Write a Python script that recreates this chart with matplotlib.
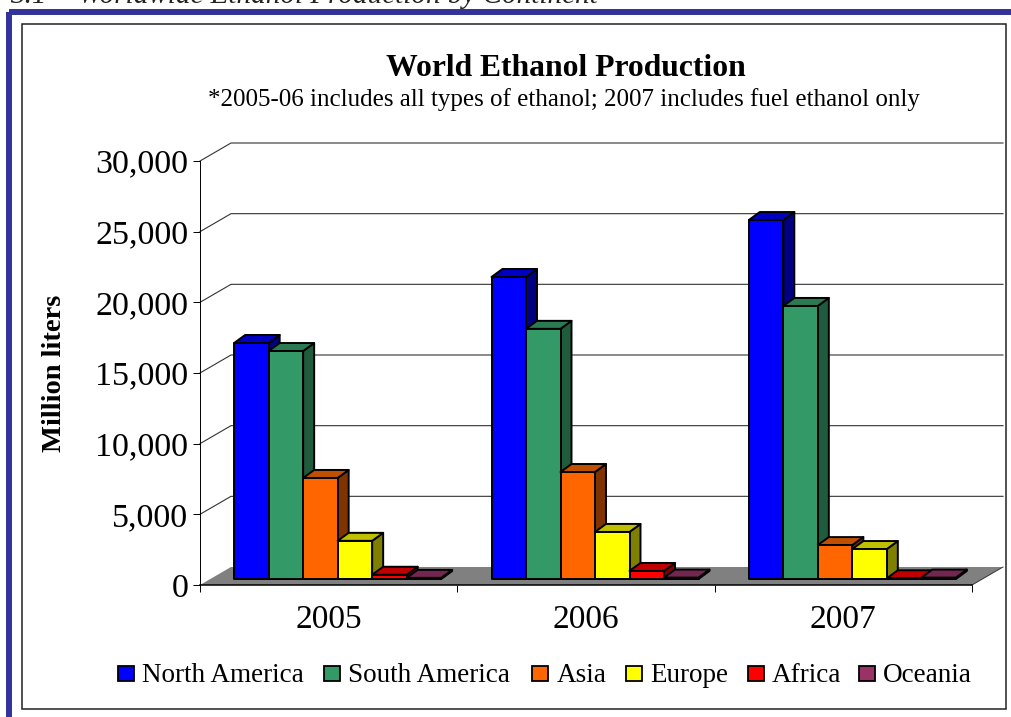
"""
World ethanol production by continent, drawn as an Excel-style 3D column chart.
The depth is faked with polygons on a normal axes.
"""
import matplotlib
matplotlib.use("Agg")
import matplotlib.pyplot as plt
from matplotlib.patches import Polygon, Rectangle

W, H = 1011, 717
plt.rcParams["font.family"] = ["Liberation Serif", "DejaVu Serif"]

# ---- data ----
years = ["2005", "2006", "2007"]
north_america = [16700, 21370, 25400]
south_america = [16130, 17700, 19320]
asia = [7150, 7570, 2400]
europe = [2700, 3330, 2120]
africa = [300, 570, 50]
oceania = [80, 100, 100]
continents = ["North America", "South America", "Asia", "Europe", "Africa", "Oceania"]
y_ticks = [0, 5000, 10000, 15000, 20000, 25000, 30000]

# front, top, side
COLORS = [
    ("#0000FF", "#0000C0", "#000080"),
    ("#339966", "#2A7A52", "#1F5C3D"),
    ("#FF6600", "#C05000", "#803300"),
    ("#FFFF00", "#C0C000", "#808000"),
    ("#FF0000", "#C00000", "#800000"),
    ("#993366", "#732650", "#4D1933"),
]
FRAME = "#333399"

fig = plt.figure(figsize=(W / 100, H / 100), dpi=100, facecolor="white")

# page furniture in pixel coordinates
bg = fig.add_axes([0, 0, 1, 1])
bg.set_xlim(0, W)
bg.set_ylim(H, 0)
bg.axis("off")
bg.add_patch(Rectangle((9, 12), W, H, fill=False, edgecolor=FRAME, linewidth=4.3))
bg.add_patch(Rectangle((22, 23.5), 984, 685.5, facecolor="white", edgecolor="#222222", linewidth=1.1))
bg.text(10, 3, "3.1", fontsize=21, style="italic", color="#222222", va="baseline")
bg.text(78, 3, "Worldwide Ethanol Production by Continent", fontsize=21, style="italic",
        color="#222222", va="baseline")
bg.text(565.5, 69, "World Ethanol Production", fontsize=22.8, fontweight="bold", ha="center", va="center")
bg.text(563.5, 100, "*2005-06 includes all types of ethanol; 2007 includes fuel ethanol only",
        fontsize=18, ha="center", va="center")
bg.text(55, 373, "Million liters", fontsize=20.5, fontweight="bold", rotation=90, ha="center", va="center")

# legend row
swatch_x = [118, 324, 532, 626, 748, 859]
for x, name, c in zip(swatch_x, continents, COLORS):
    bg.add_patch(Rectangle((x, 666), 15.5, 14.5, facecolor=c[0], edgecolor="black", linewidth=1.3))
    bg.text(x + 24 + (x == 532), 673, name, fontsize=19.5, ha="left", va="center_baseline")

# chart axes: 0 at y=585, 30,000 at y=161, x from 200 to 972
ax = fig.add_axes([200 / W, 1 - 585 / H, 772 / W, 424 / H])
ax.patch.set_alpha(0)
ax.set_xlim(0, 3)
ax.set_ylim(0, 30000)
for s in ("top", "right"):
    ax.spines[s].set_visible(False)
ax.spines["left"].set_linewidth(0.7)
ax.spines["bottom"].set_linewidth(1.1)

PX_X = 3 / 772
PX_Y = 30000 / 424
WALL_DX, WALL_DY = 31 * PX_X, 18 * PX_Y

ax.set_yticks(y_ticks)
ax.set_yticklabels([f"{v:,}" for v in y_ticks], fontsize=24.5)
ax.set_xticks([0, 1, 2, 3])
ax.set_xticklabels([])
ax.set_xticks([0.5, 1.5, 2.5], labels=years, minor=True, fontsize=24)
ax.tick_params(axis="x", which="minor", length=0, pad=14)
ax.tick_params(axis="both", which="major", length=5, width=0.7, pad=3.5)

# floor and back wall
ax.add_patch(Polygon([(0, 0), (WALL_DX, WALL_DY), (3 + WALL_DX, WALL_DY), (3, 0)],
                     facecolor="#808080", edgecolor="none", clip_on=False, zorder=1))
ax.plot([3, 3 + WALL_DX], [0, WALL_DY], color="#333333", lw=0.7, clip_on=False, zorder=1.5)
for v in y_ticks[1:]:
    ax.plot([0, WALL_DX, 3 + WALL_DX], [v, v + WALL_DY, v + WALL_DY],
            color="#333333", lw=0.8, clip_on=False, zorder=1.5)

# columns, painted left to right so each one hides its neighbour's side
BAR_W = 34.5 * PX_X
BAR_DX, BAR_DY = 11 * PX_X, 8 * PX_Y
BASE_DX, BASE_Y = 9 * PX_X, 6 * PX_Y
series = [north_america, south_america, asia, europe, africa, oceania]
z = 3
for i in range(len(years)):
    for j, (vals, c) in enumerate(zip(series, COLORS)):
        x0 = i + 0.5 + BASE_DX + (j - 3) * BAR_W
        x1 = x0 + BAR_W
        top = BASE_Y + vals[i]
        style = dict(edgecolor="black", linewidth=1.4, clip_on=False, joinstyle="round", zorder=z)
        ax.add_patch(Polygon([(x1, BASE_Y), (x1 + BAR_DX, BASE_Y + BAR_DY), (x1 + BAR_DX, top + BAR_DY), (x1, top)],
                             facecolor=c[2], **style))
        ax.add_patch(Polygon([(x0, top), (x0 + BAR_DX, top + BAR_DY), (x1 + BAR_DX, top + BAR_DY), (x1, top)],
                             facecolor=c[1], **style))
        ax.add_patch(Rectangle((x0, BASE_Y), BAR_W, vals[i], facecolor=c[0], **style))
        z += 1

fig.savefig("out.png", dpi=100)
